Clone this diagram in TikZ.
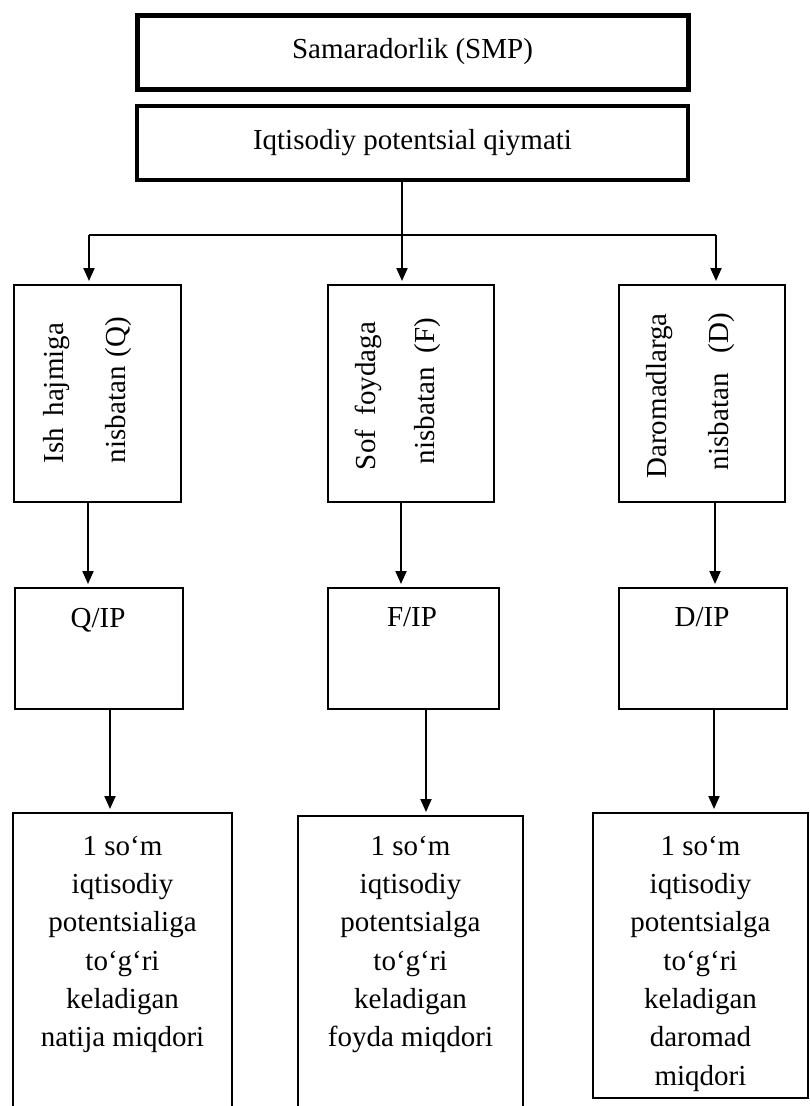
\documentclass[tikz,border=0pt]{standalone}
\usepackage{fontspec}
\setmainfont{Liberation Serif}
\usetikzlibrary{arrows.meta}
\begin{document}
\begin{tikzpicture}[x=1pt,y=-1pt,
  every node/.style={font=\fontsize{29}{38.3}\selectfont, inner sep=0pt, outer sep=0pt},
  box/.style={draw, line width=2pt, rectangle},
  topbox/.style={draw, rectangle},
  arr/.style={line width=2pt, -{Triangle[length=13pt,width=11pt]}, shorten >=4pt},
  conn/.style={line width=2pt},
  vtxt/.style={rotate=90},
  btxt/.style={align=center, anchor=north},
]
\useasboundingbox (0,0) rectangle (809,1106);
\begin{scope}
\clip (0,0) rectangle (809,1106);
% top boxes
\node[topbox, line width=5pt, minimum width=551pt, minimum height=74pt] (smp) at (412.5,52) {Samaradorlik (SMP)};
\node[topbox, line width=4pt, minimum width=551pt, minimum height=74pt] (ip) at (412.5,143) {Iqtisodiy potentsial qiymati};
% row 2
\node[box, minimum width=167pt, minimum height=217pt] (a1) at (97.5,393.5) {};
\node[box, minimum width=166pt, minimum height=217pt] (a2) at (411,393.5) {};
\node[box, minimum width=166pt, minimum height=217pt] (a3) at (702,393.5) {};
\node[vtxt] (a1x) at (57,393) {\hbox to 140pt{Ish\hfill hajmiga}};
\node[vtxt] (a1y) at (119,390) {\hbox to 146pt{nisbatan\hfill(Q)}};
\node[vtxt] (a2x) at (368,396) {\hbox to 148pt{Sof\hfill foydaga}};
\node[vtxt] (a2y) at (428,391) {\hbox to 146pt{nisbatan\hfill(F)}};
\node[vtxt] (a3x) at (660,395.5) {\hbox to 166pt{Daromadlarga}};
\node[vtxt] (a3y) at (722,391.5) {\hbox to 157pt{nisbatan\hfill(D)}};
% row 3
\node[box, minimum width=168pt, minimum height=121pt] (c1) at (99,648.5) {};
\node[box, minimum width=171pt, minimum height=121pt] (c2) at (413.5,648.5) {};
\node[box, minimum width=168pt, minimum height=121pt] (c3) at (703,648.5) {};
\node (c1t) at (98,620) {Q/IP};
\node (c2t) at (412,617) {F/IP};
\node (c3t) at (702,617) {D/IP};
% row 4
\node[box, minimum width=219pt, minimum height=302pt] (d1) at (122.5,964) {};
\node[box, minimum width=225pt, minimum height=299pt] (d2) at (410.5,965.5) {};
\node[box, minimum width=215pt, minimum height=285pt] (d3) at (700.5,955.5) {};
\node[btxt] (d1t) at (122.5,836) {1 so‘m\\iqtisodiy\\potentsialiga\\to‘g‘ri\\keladigan\\natija miqdori};
\node[btxt] (d2t) at (410.5,836) {1 so‘m\\iqtisodiy\\potentsialga\\to‘g‘ri\\keladigan\\foyda miqdori};
\node[btxt] (d3t) at (700.5,836) {1 so‘m\\iqtisodiy\\potentsialga\\to‘g‘ri\\keladigan\\daromad\\miqdori};
% coordinates for connectors
\coordinate (jl) at (89,235);
\coordinate (jm) at (402,235);
\coordinate (jr) at (716,235);
\coordinate (xa1) at (88,0);
\coordinate (xa2) at (401,0);
\coordinate (xa3) at (715,0);
\coordinate (xb1) at (110,0);
\coordinate (xb2) at (426,0);
\coordinate (xb3) at (714,0);
% connectors
\draw[conn] (jl) -- (jr);
\draw[arr] (ip.south -| jm) -- (a2.north -| jm);
\draw[arr] (jl) -- (a1.north -| jl);
\draw[arr] (jr) -- (a3.north -| jr);
\draw[arr] (a1.south -| xa1) -- (c1.north -| xa1);
\draw[arr] (a2.south -| xa2) -- (c2.north -| xa2);
\draw[arr] (a3.south -| xa3) -- (c3.north -| xa3);
\draw[arr] (c1.south -| xb1) -- (d1.north -| xb1);
\draw[arr] (c2.south -| xb2) -- (d2.north -| xb2);
\draw[arr] (c3.south -| xb3) -- (d3.north -| xb3);
\end{scope}
\end{tikzpicture}
\end{document}
